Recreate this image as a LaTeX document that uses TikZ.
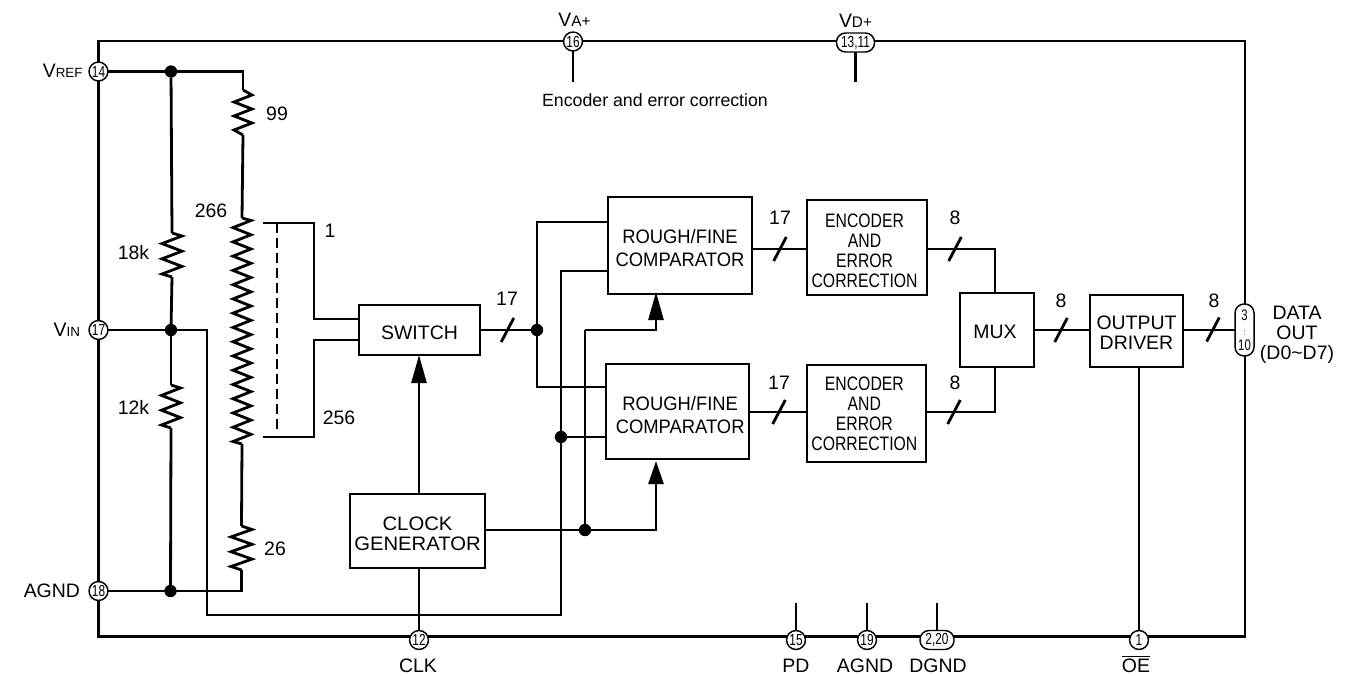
\documentclass[tikz,border=0pt]{standalone}
\usepackage{fontspec}
\setmainfont{Liberation Sans}
\newfontfamily\fcomp[FakeStretch=.945]{Liberation Sans}
\newfontfamily\fenc[FakeStretch=.81]{Liberation Sans}
\newfontfamily\fwide[FakeStretch=1.04]{Liberation Sans}
\newfontfamily\fpin[FakeStretch=.74]{Liberation Sans}
\usetikzlibrary{arrows.meta,backgrounds}
\newcommand\lab{\fontsize{14.6}{15}\selectfont}
\newcommand\smalllab{\fontsize{10}{12}\selectfont}
\newcommand\midlab{\fontsize{11.5}{12}\selectfont}
\newcommand\vsub[2]{#1{\smalllab #2}}
\newcommand\vsum[2]{#1{\midlab #2}}
\newcommand\zig[4]{%
  \coordinate (#1t) at (#2,#3);
  \coordinate (#1b) at (#2,#4);
}
\newcommand\zigdraw[7]{% name,x,ytop,ybot,offset,amp,periods
  \pgfmathsetmacro\zp{(#4-#3-2*#5)/(#7-0.5)}
  \draw[wire] (#1t)
    \foreach \k in {1,...,#7}{
      -- ({#2+#6},{#3+#5+(\k-1)*\zp})
      -- ({#2-#6},{#3+#5+(\k-0.5)*\zp})
    } -- (#1b);
}
\newcommand\busmark[2]{\draw[wire] ({#1-6.3},{#2+12}) -- ({#1+6.3},{#2-12});}
\tikzset{
  wire/.style={line width=2.1pt,line join=miter},
  box/.style={draw,line width=2.1pt,inner sep=0pt,outer sep=0pt},
  txt/.style={inner sep=0pt,outer sep=0pt,align=center,font=\lab},
  comptxt/.style={txt,font=\fcomp\fontsize{14.6}{17.6}\selectfont},
  enctxt/.style={txt,font=\fenc\fontsize{14.6}{15}\selectfont},
  widetxt/.style={txt,font=\fwide\fontsize{14.6}{15}\selectfont},
  pin/.style={draw,fill=white,circle,line width=1.1pt,inner sep=0pt,outer sep=0pt,minimum size=14.2pt,font=\fpin\fontsize{12}{12}\selectfont},
  lpin/.style={draw,fill=white,rectangle,rounded corners=6.8pt,line width=1.1pt,inner sep=0pt,outer sep=0pt,font=\fpin\fontsize{12}{12}\selectfont,align=center},
  dot/.style={fill=black,circle,inner sep=0pt,outer sep=0pt,minimum size=9.3pt},
  arrowup/.style={wire,-{Triangle[length=#1*.75pt,width=11.2pt]}}
}
\begin{document}
\begin{tikzpicture}[x=.75pt,y=-.75pt]
\useasboundingbox (0,0) rectangle (1359,675);
\node[draw,line width=2.1pt,inner sep=0pt,outer sep=0pt,minimum width=1146.5*.75pt,minimum height=595.5*.75pt] (chip) at (671.75,338.75) {};

% blocks
\node[box,minimum width=144*.75pt,minimum height=97*.75pt,label={[comptxt,yshift=-2pt]center:{ROUGH/FINE\\COMPARATOR}}] (tc) at (680,245.5) {};
\node[box,minimum width=143*.75pt,minimum height=95*.75pt,label={[comptxt,yshift=-2.6pt,xshift=2pt]center:{ROUGH/FINE\\COMPARATOR}}] (bc) at (677.5,411.5) {};
\node[box,minimum width=120*.75pt,minimum height=95*.75pt,label={[enctxt,xshift=-1.8pt,yshift=-2.2pt]center:{ENCODER\\AND\\ERROR\\CORRECTION}}] (te) at (867,247.5) {};
\node[box,minimum width=119*.75pt,minimum height=97*.75pt,label={[enctxt,xshift=-1.6pt]center:{ENCODER\\AND\\ERROR\\CORRECTION}}] (be) at (866.5,413.5) {};
\node[box,minimum width=74*.75pt,minimum height=74*.75pt,label={[txt,xshift=-1.5pt,yshift=-1.5pt]center:MUX}] (mux) at (997,330) {};
\node[box,minimum width=93*.75pt,minimum height=72*.75pt,label={[txt,yshift=-1.5pt]center:{OUTPUT\\DRIVER}}] (out) at (1136.5,331) {};
\node[box,minimum width=121*.75pt,minimum height=50*.75pt,label={[txt,yshift=-2pt]center:SWITCH}] (sw) at (419.5,330) {};
\node[box,minimum width=135*.75pt,minimum height=74*.75pt,label={[widetxt,yshift=-1.9pt]center:{CLOCK\\GENERATOR}}] (clk) at (417.5,531) {};

% pins
\node[pin] (p14) at (98.5,71.5) {14};
\node[pin] (p17) at (98.5,330) {17};
\node[pin] (p18) at (98.5,591) {18};
\node[pin] (p16) at (573,41.5) {16};
\node[lpin,minimum width=38*.75pt,minimum height=19*.75pt] (p13) at (855.5,42.5) {13,11};
\node[pin] (p12) at (419,640) {12};
\node[pin] (p15) at (796,640) {15};
\node[pin] (p19) at (867,640) {19};
\node[lpin,minimum width=34*.75pt,minimum height=19*.75pt] (p2) at (937,640) {2,20};
\node[pin] (p1) at (1139,640) {1};
\node[lpin,minimum width=19*.75pt,minimum height=52*.75pt,font=\fpin\fontsize{11.5}{11.25}\selectfont] (pd) at (1244.5,330) {3\\{\fontsize{6.5}{6.5}\selectfont :}\\10};

% junctions
\node[dot] (d1) at (171,71.5) {};
\node[dot] (d2) at (171,330) {};
\node[dot] (d3) at (170.5,591) {};
\node[dot] (d4) at (537,330) {};
\node[dot] (d5) at (561,437) {};
\node[dot] (d6) at (585,530) {};

% named free ends
\zig{r99}{243}{90}{135}
\zig{rA}{242}{218}{444}
\zig{rB}{241.5}{526}{570}
\zig{rC}{172}{233}{277}
\zig{rD}{171}{385}{428}
\coordinate (s16) at (573,82);
\coordinate (s13) at (855.5,82);
\coordinate (s15) at (796,603);
\coordinate (s19) at (867,603);
\coordinate (s2) at (937,603);
\coordinate (vc) at (207,615);
\coordinate (vd) at (561,615);
\coordinate (t1a) at (263,223);
\coordinate (t1c) at (314,223);
\coordinate (sw1) at (359,319);
\coordinate (t2a) at (263,437);
\coordinate (t2c) at (314,437);
\coordinate (sw2) at (359,340);
\coordinate (dsa) at (277,223);
\coordinate (dsb) at (277,430);
\coordinate (ti1) at (608,222);
\coordinate (ti2) at (608,271);
\coordinate (bi1) at (606,387);
\coordinate (ck) at (485,530);
\coordinate (m1) at (585,330);
\coordinate (tia) at (656,292);
\coordinate (bia) at (656,461);
\coordinate (to) at (752,249);
\coordinate (tei) at (807,249);
\coordinate (teo) at (927,249);
\coordinate (bo) at (749,412);
\coordinate (bei) at (807,412);
\coordinate (beo) at (926,412);
\coordinate (mt) at (995,293);
\coordinate (mb) at (995,367);

\begin{scope}[on background layer]
\draw[wire] (p14) -- (d1) -| (r99t);
\zigdraw{r99}{243}{90}{135}{5}{9}{3}
\draw[wire] (r99b) -- (rAt);
\zigdraw{rA}{242}{218}{444}{2.5}{9}{16}
\draw[wire] (rAb) -- (rBt);
\zigdraw{rB}{241.5}{526}{570}{3.5}{10.5}{3}
\draw[wire] (rBb) |- (p18);
\draw[wire] (d1) -- (rCt);
\zigdraw{rC}{172}{233}{277}{3}{10}{3}
\draw[wire] (rCb) -- (d2);
\draw[wire] (d2) -- (rDt);
\zigdraw{rD}{171}{385}{428}{3}{9.5}{3}
\draw[wire] (rDb) -- (d3);
\draw[wire] (p17) -- (d2) -| (vc) -- (vd) -- (d5) |- (ti2);
\draw[wire] (d5) -- (bc.west |- d5);
\draw[wire] (t1a) -- (t1c) |- (sw1);
\draw[wire] (t2a) -- (t2c) |- (sw2);
\draw[line width=2.1pt,dash pattern=on 7.5pt off 3.8pt] (dsa) -- (dsb);
\draw[wire] (sw) -- (d4);
\draw[wire] (d4) |- (ti1);
\draw[wire] (d4) |- (bi1);
\draw[arrowup=28] (clk.north -| p12) -- (sw.south -| p12);
\draw[wire] (clk.south -| p12) -- (p12);
\draw[wire] (ck) -- (d6);
\draw[arrowup=23] (d6) -| (bia);
\draw[wire] (d6) -- (m1);
\draw[arrowup=28] (m1) -| (tia);
\draw[wire] (to) -- (tei);
\draw[wire] (bo) -- (bei);
\draw[wire] (teo) -| (mt);
\draw[wire] (beo) -| (mb);
\draw[wire] (mux.east) -- (out.west |- mux.east);
\draw[wire] (out.east |- pd) -- (pd);
\draw[wire] (out.south -| p1) -- (p1);
\draw[wire] (p16) -- (s16);
\draw[wire] (p13) -- (s13);
\draw[wire] (p15) -- (s15);
\draw[wire] (p19) -- (s19);
\draw[wire] (p2) -- (s2);
\end{scope}

% bus marks
\busmark{507.5}{330}
\busmark{780}{249}
\busmark{779}{412}
\busmark{955}{249}
\busmark{954}{412}
\busmark{1061}{330}
\busmark{1213}{329.5}

% labels
\node[txt,anchor=east] (lvref) at (82.5,71) {\vsub{V}{REF}};
\node[txt,anchor=east] (lvin) at (80,330) {\vsub{V}{IN}};
\node[txt,anchor=east] (lagnd) at (80,591) {AGND};
\node[txt] (lva) at (574.5,20) {\vsum{V}{A+}};
\node[txt] (lvd) at (855.5,20.5) {\vsum{V}{D+}};
\node[txt,font=\fontsize{13.3}{15}\selectfont] (lenc) at (655,100) {Encoder and error correction};
\node[txt] (l99) at (277,114) {99};
\node[txt] (l266) at (211,211) {266};
\node[txt] (l1) at (330,231) {1};
\node[txt] (l18k) at (133.5,253) {18k};
\node[txt] (l12k) at (133.5,407) {12k};
\node[txt] (l256) at (339,418) {256};
\node[txt] (l26) at (275,549) {26};
\node[txt] (n1) at (507,299) {17};
\node[txt] (n2) at (780,218) {17};
\node[txt] (n3) at (779,383) {17};
\node[txt] (n4) at (955,218) {8};
\node[txt] (n5) at (955,383) {8};
\node[txt] (n6) at (1061,301) {8};
\node[txt] (n7) at (1214,301) {8};
\node[txt,font=\fontsize{14.6}{14.8}\selectfont] (ldata) at (1297,335) {DATA\\OUT\\(D0\textasciitilde D7)};
\node[txt] (lclk) at (418,665.5) {CLK};
\node[txt] (lpd) at (796,665.5) {PD};
\node[txt] (lag2) at (865,665.5) {AGND};
\node[txt] (ldg) at (938,665.5) {DGND};
\node[txt] (loe) at (1136,664) {$\overline{\mbox{OE}}$};
\end{tikzpicture}
\end{document}
